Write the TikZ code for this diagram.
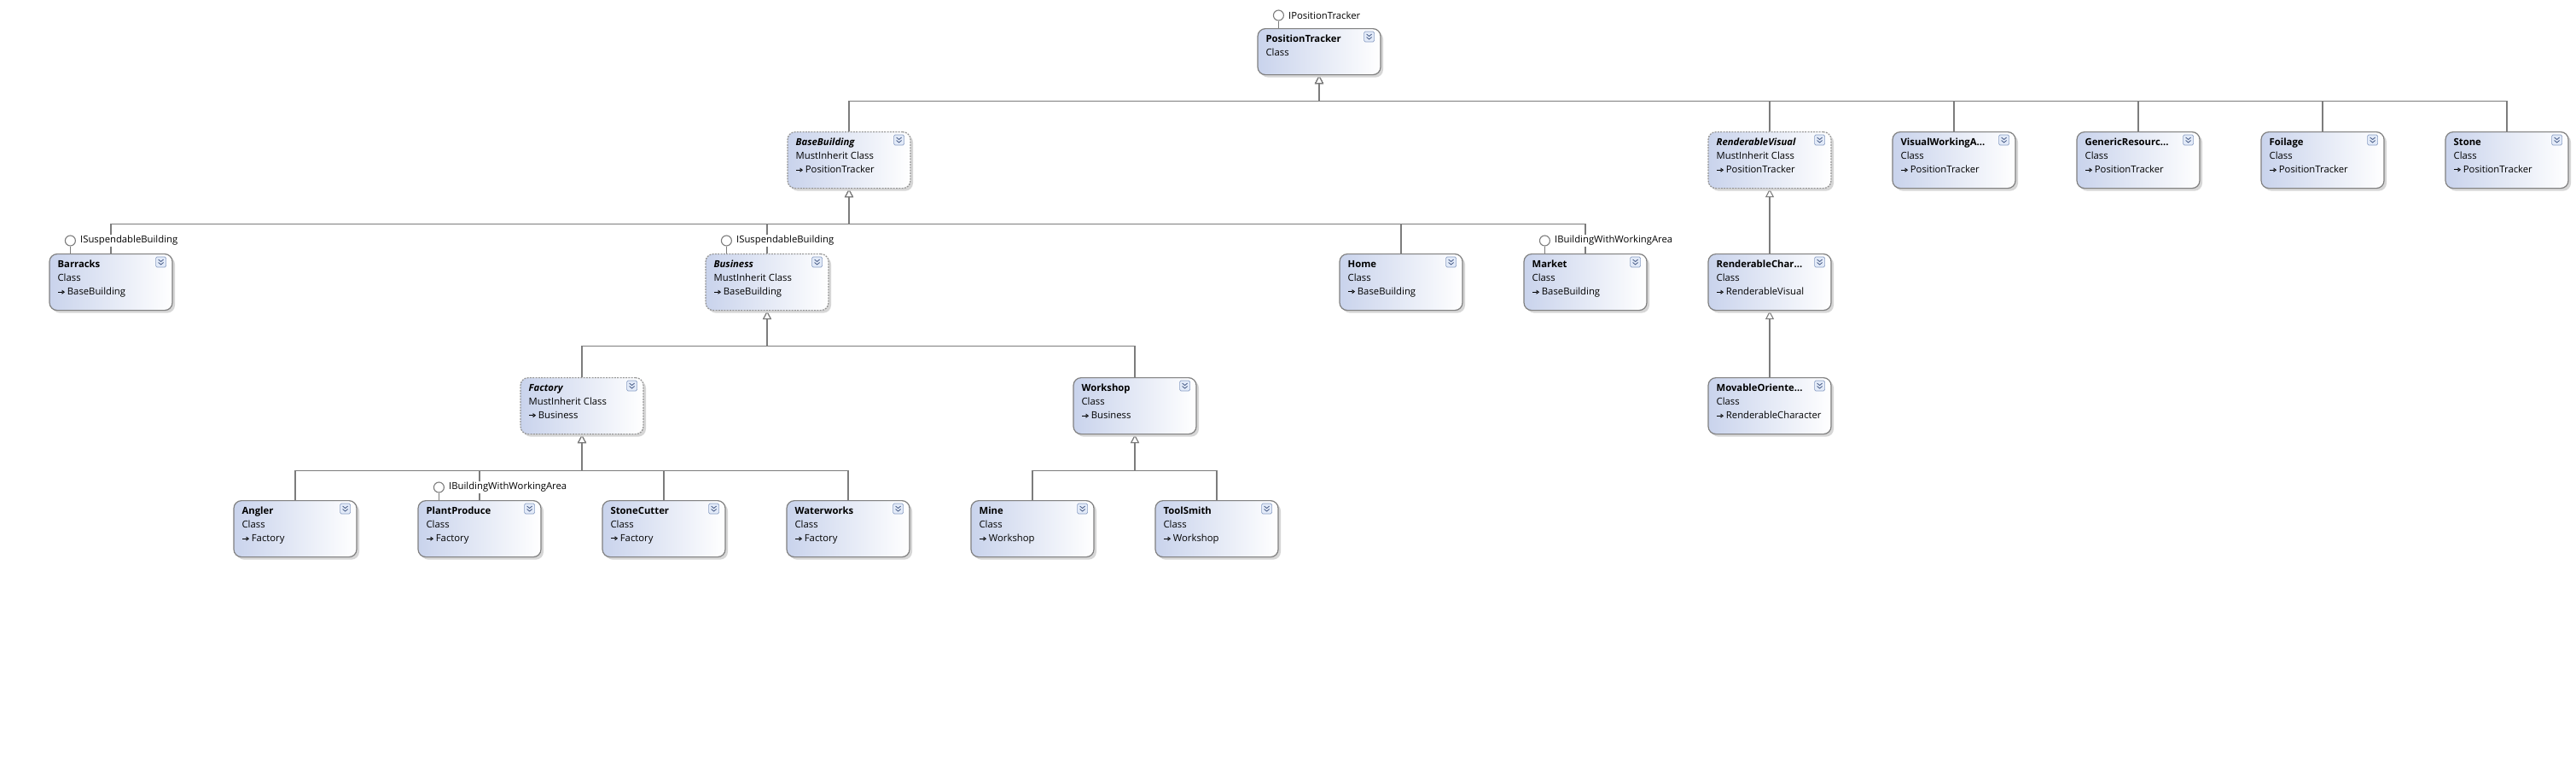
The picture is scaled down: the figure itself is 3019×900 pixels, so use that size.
\documentclass[tikz,border=0pt]{standalone}
\usepackage{fontspec}
\setmainfont{Open Sans}
\usetikzlibrary{arrows.meta,shadows}
\definecolor{boxblue}{HTML}{C9D3EC}
\definecolor{linegray}{HTML}{7C7C7C}
\definecolor{bordergray}{HTML}{808080}
\definecolor{expfill}{HTML}{E2EAF8}
\definecolor{expdraw}{HTML}{8A9EC4}
\definecolor{expchev}{HTML}{465A86}
\pgfdeclarelayer{bg}
\pgfsetlayers{bg,main}
\newsavebox\inhbox
\sbox\inhbox{\tikz[baseline=-3.6pt]\draw[line width=0.8pt,-{Triangle[open,length=3.5pt,width=5pt]}] (0,0) -- (8pt,0);}
\tikzset{
  cbox/.style={draw=bordergray, line width=1.2pt, rounded corners=9pt,
    left color=boxblue, right color=white, minimum width=144pt,
    minimum height=66pt, inner sep=0pt,
    drop shadow={shadow xshift=3pt, shadow yshift=-3pt, fill=black!16, opacity=1, draw=none}},
  abox/.style={cbox, draw=bordergray!85, dash pattern=on 2pt off 1.3pt},
  ctext/.style={inner sep=0pt, align=left, anchor=north west,
    font={\fontsize{11.3pt}{16pt}\selectfont}},
  inh/.style={draw=linegray, line width=1.3pt,
    -{Triangle[length=10pt, width=10pt, fill=white, line width=1.1pt]}},
  conn/.style={draw=linegray, line width=1.2pt},
  lollic/.style={circle, draw=linegray, fill=white, line width=1.1pt,
    minimum size=12pt, inner sep=0pt},
  lollt/.style={fill=white, inner sep=1pt, anchor=west,
    font={\fontsize{11.3pt}{14pt}\selectfont}},
}
\newcommand\classnode[5]{%
  \node[#2, anchor=north] (#1) at (#3) {};
  \node[ctext] (#1-t) at ([xshift=10pt,yshift=-8pt]#1.north west) {#4\\#5};
  \draw[draw=expdraw, fill=expfill, line width=0.7pt, rounded corners=1.5pt]
    ([xshift=-20pt,yshift=-4pt]#1.north east) rectangle ++(12pt,-12pt);
  \draw[expchev, line width=0.8pt]
    ([xshift=-17pt,yshift=-7pt]#1.north east) -- ++(3pt,-2.5pt) -- ++(3pt,2.5pt)
    ([xshift=-17pt,yshift=-10.5pt]#1.north east) -- ++(3pt,-2.5pt) -- ++(3pt,2.5pt);
}
\newcommand\lolli[3]{%
  \node[lollic] (#3) at ([xshift=25pt,yshift=15pt]#1.north west) {};
  \node[lollt] (#3-l) at ([xshift=4pt]#3.east) {#2};
  \begin{pgfonlayer}{bg}
    \draw[conn] (#3.south) -- (#3.south |- #1.north);
  \end{pgfonlayer}
}
\newcommand\inh{\usebox\inhbox\hspace{2.5pt}}
\begin{document}
\begin{tikzpicture}[x=1pt, y=-1pt]
\begin{pgfonlayer}{bg}
  \fill[white] (0,0) rectangle (3019,900);
\end{pgfonlayer}
\useasboundingbox (0,0) rectangle (3019,900);

% row 0
\classnode{pt}{cbox, minimum height=54pt}{1546,33}{\textbf{PositionTracker}}{Class}
% row 1
\classnode{bb}{abox}{995,154}{\textbf{\textit{BaseBuilding}}}{MustInherit Class\\\inh PositionTracker}
\classnode{rv}{abox}{2074,154}{\textbf{\textit{RenderableVisual}}}{MustInherit Class\\\inh PositionTracker}
\classnode{vwa}{cbox}{2290,154}{\textbf{VisualWorkingA...}}{Class\\\inh PositionTracker}
\classnode{gr}{cbox}{2506,154}{\textbf{GenericResourc...}}{Class\\\inh PositionTracker}
\classnode{fo}{cbox}{2722,154}{\textbf{Foilage}}{Class\\\inh PositionTracker}
\classnode{st}{cbox}{2938,154}{\textbf{Stone}}{Class\\\inh PositionTracker}
% row 2
\classnode{ba}{cbox}{130,297}{\textbf{Barracks}}{Class\\\inh BaseBuilding}
\classnode{bu}{abox}{899,297}{\textbf{\textit{Business}}}{MustInherit Class\\\inh BaseBuilding}
\classnode{ho}{cbox}{1642,297}{\textbf{Home}}{Class\\\inh BaseBuilding}
\classnode{ma}{cbox}{1858,297}{\textbf{Market}}{Class\\\inh BaseBuilding}
\classnode{rc}{cbox}{2074,297}{\textbf{RenderableChar...}}{Class\\\inh RenderableVisual}
% row 3
\classnode{fa}{abox}{682,442}{\textbf{\textit{Factory}}}{MustInherit Class\\\inh Business}
\classnode{ws}{cbox}{1330,442}{\textbf{Workshop}}{Class\\\inh Business}
\classnode{mo}{cbox}{2074,442}{\textbf{MovableOriente...}}{Class\\\inh RenderableCharacter}
% row 4
\classnode{an}{cbox}{346,586}{\textbf{Angler}}{Class\\\inh Factory}
\classnode{pp}{cbox}{562,586}{\textbf{PlantProduce}}{Class\\\inh Factory}
\classnode{sc}{cbox}{778,586}{\textbf{StoneCutter}}{Class\\\inh Factory}
\classnode{ww}{cbox}{994,586}{\textbf{Waterworks}}{Class\\\inh Factory}
\classnode{mi}{cbox}{1210,586}{\textbf{Mine}}{Class\\\inh Workshop}
\classnode{ts}{cbox}{1426,586}{\textbf{ToolSmith}}{Class\\\inh Workshop}

% connectors
\begin{pgfonlayer}{bg}
  \foreach \c in {bb,rv,vwa,gr,fo,st}
    \draw[inh] (\c.north) |- ([yshift=-30pt]pt.south) -- (pt.south);
  \foreach \c in {ba,bu,ho,ma}
    \draw[inh] (\c.north) |- ([yshift=-41pt]bb.south) -- (bb.south);
  \foreach \c in {fa,ws}
    \draw[inh] (\c.north) |- ([yshift=-41pt]bu.south) -- (bu.south);
  \foreach \c in {an,pp,sc,ww}
    \draw[inh] (\c.north) |- ([yshift=-42pt]fa.south) -- (fa.south);
  \foreach \c in {mi,ts}
    \draw[inh] (\c.north) |- ([yshift=-42pt]ws.south) -- (ws.south);
  \draw[inh] (rc.north) -- (rv.south);
  \draw[inh] (mo.north) -- (rc.south);
\end{pgfonlayer}

% lollipops
\lolli{pt}{IPositionTracker}{lpt}
\lolli{ba}{ISuspendableBuilding}{lba}
\lolli{bu}{ISuspendableBuilding}{lbu}
\lolli{ma}{IBuildingWithWorkingArea}{lma}
\lolli{pp}{IBuildingWithWorkingArea}{lpp}
\end{tikzpicture}
\end{document}
